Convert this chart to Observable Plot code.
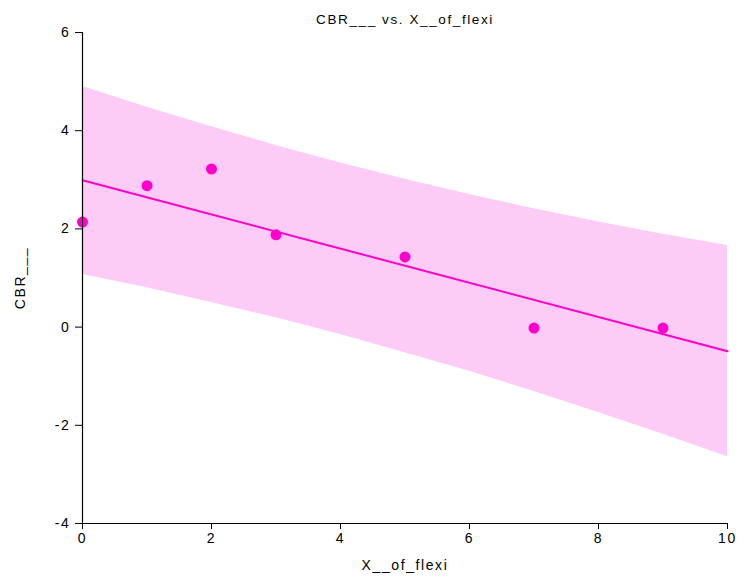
<!DOCTYPE html>
<html>
<head>
<meta charset="utf-8">
<script src="https://cdn.jsdelivr.net/npm/d3@7"></script>
<script src="https://cdn.jsdelivr.net/npm/@observablehq/plot@0.6"></script>
<style>
  html, body { margin: 0; padding: 0; background: #fff; }
  svg { font-family: "Liberation Sans", Arial, sans-serif; }
  svg text { letter-spacing: 1.6px; }
</style>
</head>
<body>
<div id="chart"></div>
<script>
// Observed points
const xObs = [0, 1, 2, 3, 5, 7, 9];
const yObs = [2.14, 2.88, 3.22, 1.88, 1.43, -0.02, -0.02];

// Fitted line endpoints
const xFit = [0, 10];
const yFit = [2.99, -0.49];

// Prediction band
const xBand = [0, 1, 2, 3, 4, 5, 6, 7, 8, 9, 10];
const bandUpper = [4.90, 4.48, 4.08, 3.70, 3.34, 3.01, 2.70, 2.41, 2.14, 1.89, 1.66];
const bandLower = [1.07, 0.80, 0.50, 0.19, -0.15, -0.52, -0.90, -1.31, -1.74, -2.18, -2.64];

const xTicks = [0, 2, 4, 6, 8, 10];
const yTicks = [-4, -2, 0, 2, 4, 6];

const title = "CBR___ vs. X__of_flexi";
const xLabel = "X__of_flexi";
const yLabel = "CBR___";

const points = xObs.map((x, i) => ({x, y: yObs[i]}));
const fit = xFit.map((x, i) => ({x, y: yFit[i]}));
const band = xBand.map((x, i) => ({x, lo: bandLower[i], hi: bandUpper[i]}));

const chart = Plot.plot({
  width: 740,
  height: 581,
  marginLeft: 82,
  marginRight: 13,
  marginTop: 32,
  marginBottom: 58,
  style: {fontSize: "14px", fontFamily: "Liberation Sans, Arial, sans-serif", color: "#000", background: "#fff"},
  x: {domain: [0, 10]},
  y: {domain: [-4, 6]},
  marks: [
    Plot.areaY(band, {x: "x", y1: "lo", y2: "hi", fill: "#fccbf6", fillOpacity: 1}),
    Plot.line(fit, {x: "x", y: "y", stroke: "#ff00cc", strokeWidth: 2}),
    Plot.dot(points, {x: "x", y: "y", r: 5.5, fill: "#ff00cc", stroke: "none"}),
    Plot.ruleX([0], {y1: -4, y2: 6, stroke: "#000", strokeWidth: 1.2}),
    Plot.ruleY([-4], {x1: 0, x2: 10, stroke: "#000", strokeWidth: 1.2}),
    Plot.axisX({ticks: xTicks, tickFormat: d => String(d), tickSize: 6, tickPadding: 4, stroke: "#000", strokeOpacity: 1, label: xLabel, labelArrow: "none", labelAnchor: "center", labelOffset: 46, fontSize: 14}),
    Plot.axisY({ticks: yTicks, tickFormat: d => String(d), tickSize: 7, tickPadding: 5, stroke: "#000", strokeOpacity: 1, label: yLabel, labelArrow: "none", labelAnchor: "center", labelOffset: 67, fontSize: 14}),
    Plot.text([title], {frameAnchor: "top", dy: -18, fontSize: 13.5, fill: "#000"})
  ]
});
document.getElementById("chart").appendChild(chart);
</script>
</body>
</html>
